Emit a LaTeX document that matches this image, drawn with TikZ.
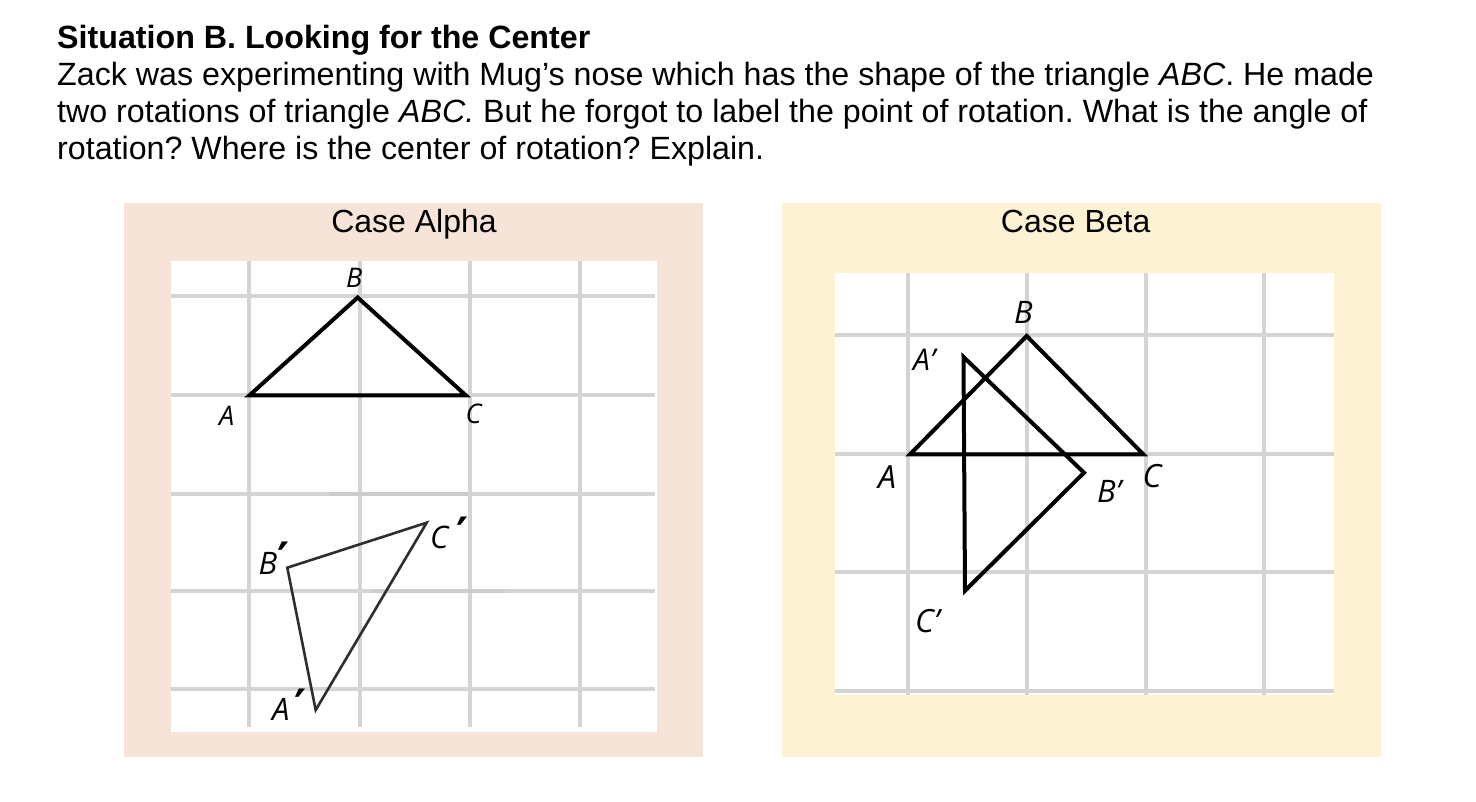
\documentclass[tikz,border=0pt]{standalone}
\usepackage{fontspec}
\setmainfont{Liberation Sans}
\newfontfamily\lblfont{Open Sans}
\newfontfamily\tickfont{DejaVu Sans}
\definecolor{alphabg}{HTML}{F6E4D8}
\definecolor{betabg}{HTML}{FDF2D3}
\definecolor{gridgray}{HTML}{D4D4D4}
\definecolor{gridshade}{HTML}{CCCCCC}
\frenchspacing
\begin{document}
\begin{tikzpicture}[x=1pt,y=-1pt,
  gridline/.style={draw=gridgray, line width=4pt},
  gridshadow/.style={draw=gridshade, line width=4pt},
  tri/.style={draw=black, line width=4pt, line join=miter},
  trithin/.style={draw=black!82, line width=2.6pt, line join=miter},
  head/.style={anchor=base west, inner sep=0pt, font=\fontsize{32.2}{38}\selectfont},
  casetitle/.style={anchor=base, inner sep=0pt, font=\fontsize{32}{38}\selectfont},
  lbl/.style={anchor=base west, inner sep=0pt, font=\lblfont\itshape\fontsize{#1}{#1}\selectfont},
  tick/.style={anchor=north, inner sep=0pt, font=\tickfont\bfseries\fontsize{46}{46}\selectfont}]
\path[use as bounding box] (0,0) rectangle (1476,802);
\fill[white] (0,0) rectangle (1476,802);

% heading
\node[head] (h1) at (57,49) {\bfseries Situation B. Looking for the Center};
\node[head] (h2) at (57,86) {Zack was experimenting with Mug’s nose which has the shape of the triangle \textit{ABC}. He made};
\node[head] (h3) at (57,123) {two rotations of triangle \textit{ABC.} But he forgot to label the point of rotation. What is the angle of};
\node[head] (h4) at (57,160) {rotation? Where is the center of rotation? Explain.};

% ---------------- Case Alpha ----------------
\fill[alphabg] (124,203) rectangle (703,757);
\fill[white] (171,261) rectangle (657,732);
\node[casetitle] (talpha) at (414,233) {Case Alpha};
\foreach \x in {249,359.6,470.4,580.4} \draw[gridline] (\x,261) -- (\x,727);
\foreach \y in {296.4,395,493.6,591.4,689.3} \draw[gridline] (171,\y) -- (655,\y);
\draw[gridshadow] (329,493.6) -- (468,493.6);
\draw[gridshadow] (373,591.4) -- (505,591.4);

\coordinate (aA) at (249.3,395.5);
\coordinate (aB) at (357.7,297.5);
\coordinate (aC) at (466,395.5);
\draw[tri] (aA) -- (aB) -- (aC) -- cycle;
\coordinate (aBp) at (287.3,567.7);
\coordinate (aCp) at (426.7,522.7);
\coordinate (aAp) at (315.7,710);
\draw[trithin] (aBp) -- (aCp) -- (aAp) -- cycle;

\node[lbl=27] (laB) at (346,287.5) {B};
\node[lbl=27] (laA) at (219,425) {A};
\node[lbl=27] (laC) at (465.5,424) {C};
\node[lbl=31] (laBp) at (258.5,574) {B};
\node[tick] (taBp) at (283.5,542) {\char"2032};
\node[lbl=31] (laCp) at (430,548.5) {C};
\node[tick] (taCp) at (463,517) {\char"2032};
\node[lbl=31] (laAp) at (272,720) {A};
\node[tick] (taAp) at (301,689) {\char"2032};

% ---------------- Case Beta ----------------
\fill[betabg] (782,203) rectangle (1381,757);
\fill[white] (835,273) rectangle (1334,695);
\node[casetitle] (tbeta) at (1075.7,233) {Case Beta};
\foreach \x in {908.2,1026.8,1145.5,1264} \draw[gridline] (\x,273) -- (\x,695);
\foreach \y in {335,454.3,572,691} \draw[gridline] (835,\y) -- (1334,\y);

\coordinate (bA) at (910,454.3);
\coordinate (bB) at (1026.7,336);
\coordinate (bC) at (1143.3,454.3);
\draw[tri] (bA) -- (bB) -- (bC) -- cycle;
\coordinate (bAp) at (963.5,357);
\coordinate (bBp) at (1084,472.7);
\coordinate (bCp) at (965,590.7);
\draw[tri] (bAp) -- (bBp) -- (bCp) -- cycle;

\node[lbl=31] (lbB) at (1014,323.5) {B};
\node[lbl=30] (lbAp) at (913,371) {A’};
\node[lbl=32] (lbA) at (878,488.5) {A};
\node[lbl=32] (lbC) at (1142.5,487) {C};
\node[lbl=31] (lbBp) at (1097,502) {B’};
\node[lbl=32] (lbCp) at (915,632) {C’};
\end{tikzpicture}
\end{document}
